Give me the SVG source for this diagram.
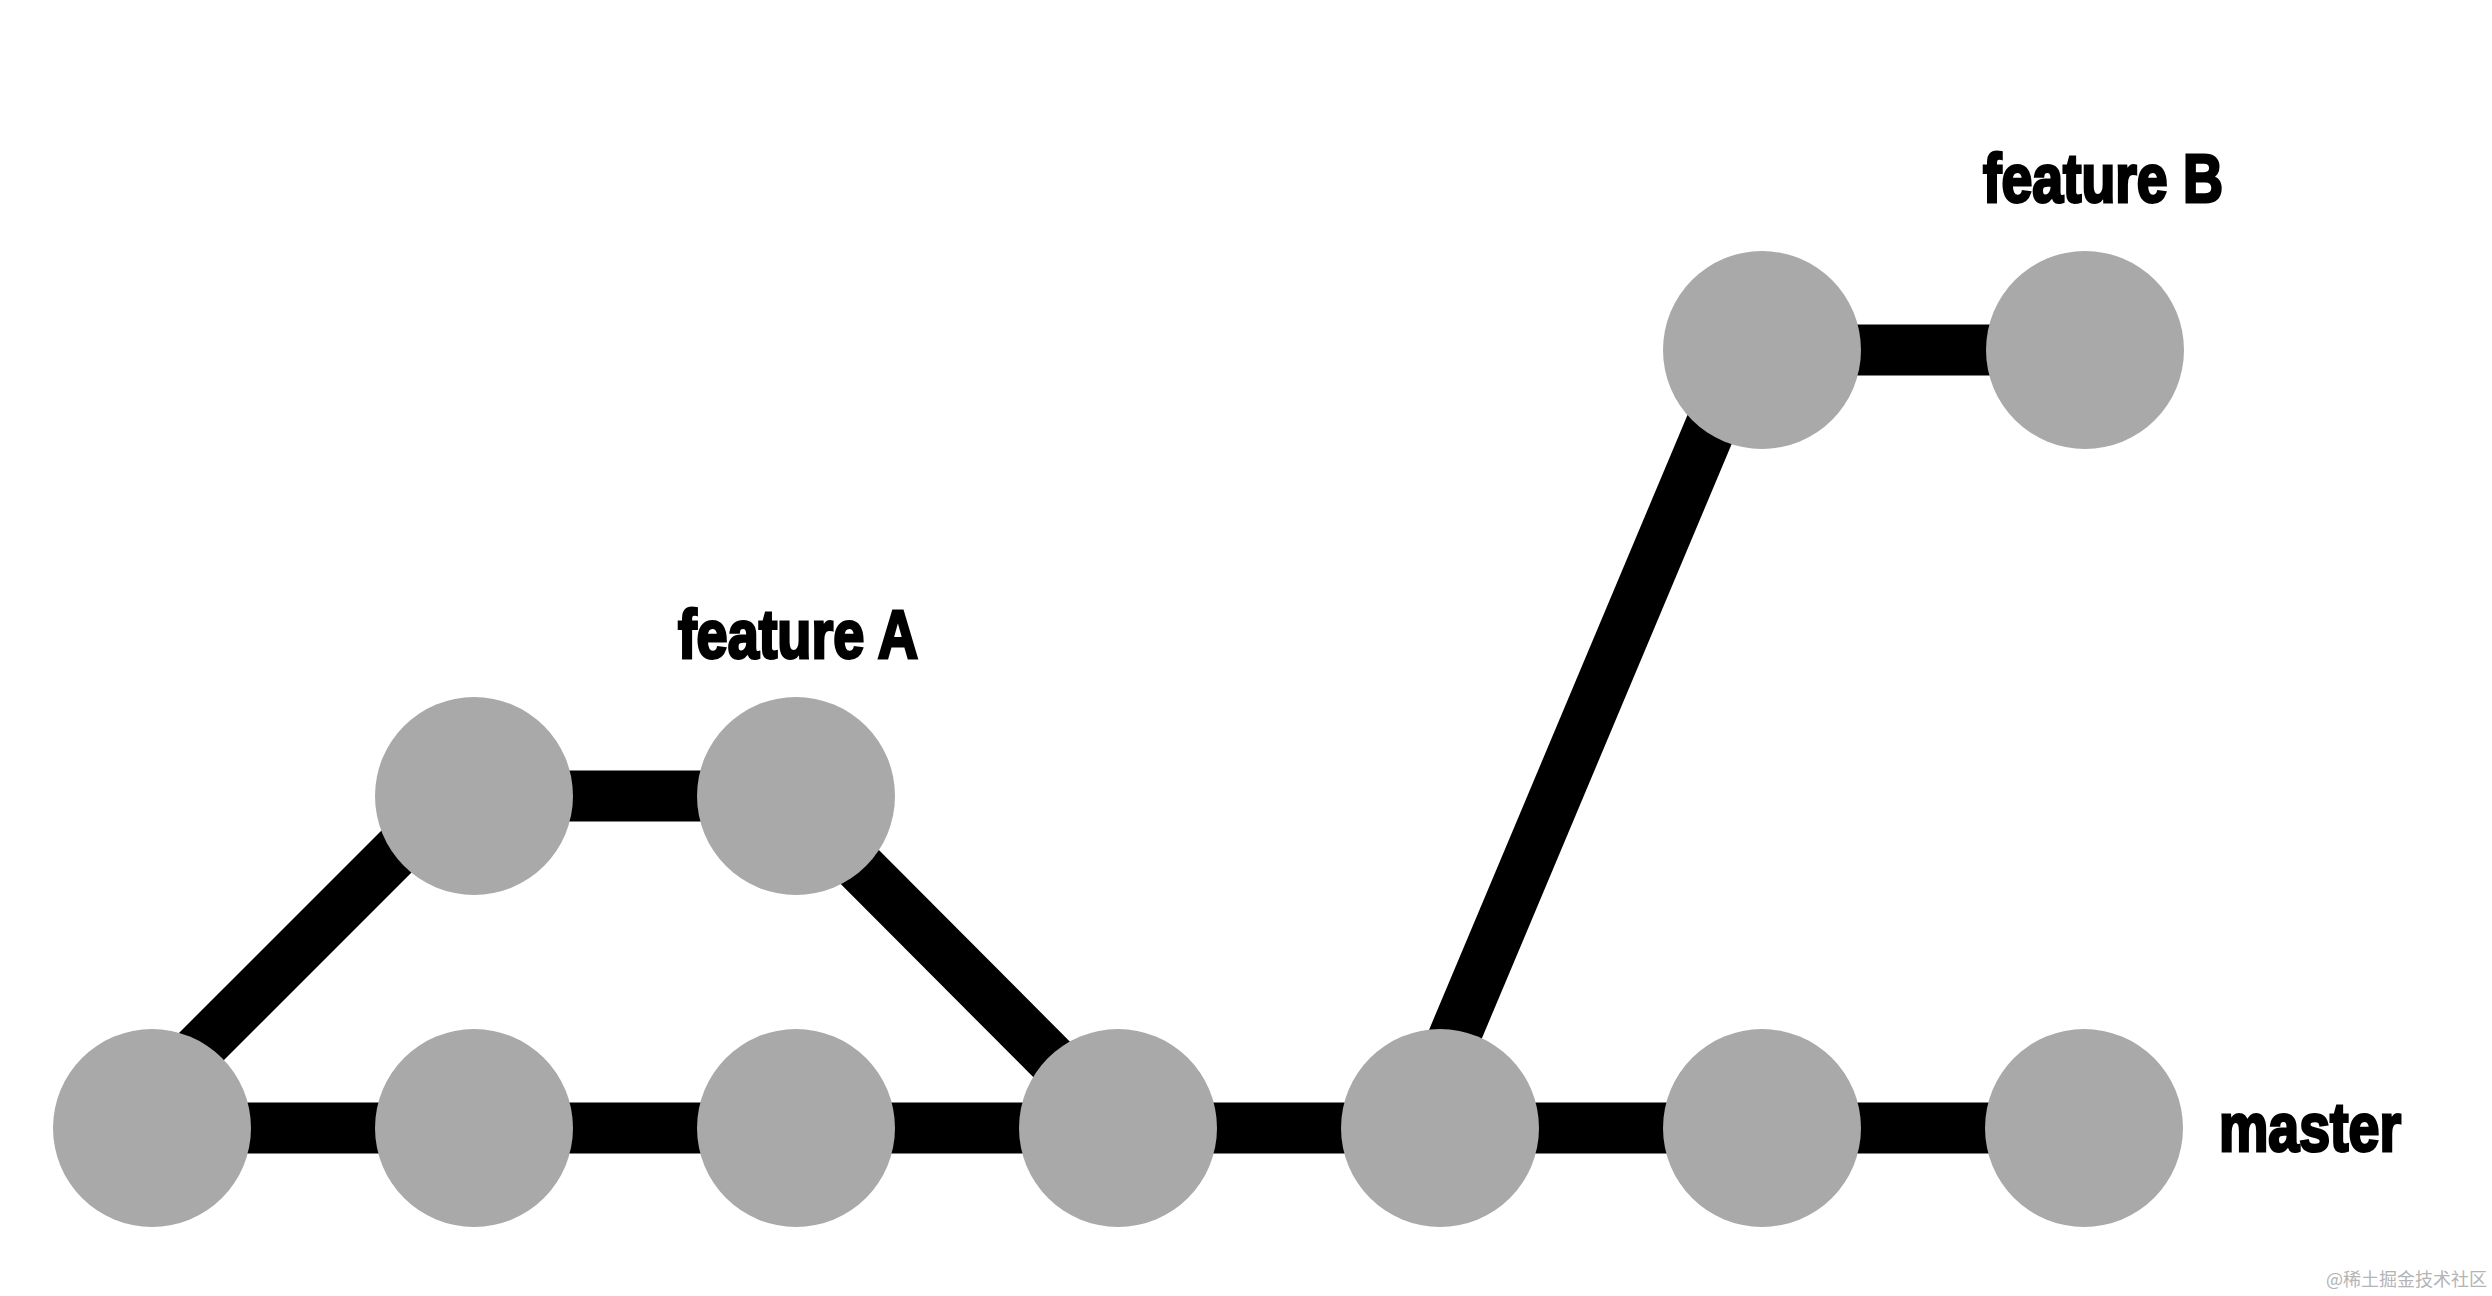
<svg xmlns="http://www.w3.org/2000/svg" width="2492" height="1296" viewBox="0 0 2492 1296">
<style>
.edge{stroke:#000;stroke-width:51;fill:none}
.commit{fill:#a9a9a9}
.label{font-family:"Liberation Sans",Arial,sans-serif;font-weight:bold;font-size:68px;fill:#000;stroke:#000;stroke-width:3}
.wm{font-family:"Noto Sans CJK SC","Liberation Sans",sans-serif;font-size:18px;fill:#b4b4b4}
</style>
<rect width="2492" height="1296" fill="#fff"/>
<g id="connectors">
<line class="edge" x1="152" y1="1128" x2="2084" y2="1128"/>
<line class="edge" x1="474" y1="796" x2="796" y2="796"/>
<line class="edge" x1="1762" y1="350" x2="2084" y2="350"/>
<line class="edge" x1="120" y1="1128" x2="452" y2="796"/>
<line class="edge" x1="789" y1="796" x2="1120" y2="1128"/>
<line class="edge" x1="1416" y1="1128" x2="1743" y2="350" style="stroke-width:52"/>
</g>
<g id="m1"><circle class="commit" cx="152" cy="1128" r="99"/></g>
<g id="m2"><circle class="commit" cx="474" cy="1128" r="99"/></g>
<g id="m3"><circle class="commit" cx="796" cy="1128" r="99"/></g>
<g id="m4"><circle class="commit" cx="1118" cy="1128" r="99"/></g>
<g id="m5"><circle class="commit" cx="1440" cy="1128" r="99"/></g>
<g id="m6"><circle class="commit" cx="1762" cy="1128" r="99"/></g>
<g id="m7"><circle class="commit" cx="2084" cy="1128" r="99"/></g>
<g id="a1"><circle class="commit" cx="474" cy="796" r="99"/></g>
<g id="a2"><circle class="commit" cx="796" cy="796" r="99"/></g>
<g id="b1"><circle class="commit" cx="1762" cy="350" r="99"/></g>
<g id="b2"><circle class="commit" cx="2085" cy="350" r="99"/></g>
<g id="labels">
<text class="label" x="678" y="658" textLength="240" lengthAdjust="spacingAndGlyphs">feature A</text>
<text class="label" x="1983" y="202" textLength="240" lengthAdjust="spacingAndGlyphs">feature B</text>
<text class="label" x="2219" y="1151" textLength="182" lengthAdjust="spacingAndGlyphs">master</text>
<text class="wm" x="2326" y="1286">@稀土掘金技术社区</text>
</g>
</svg>
